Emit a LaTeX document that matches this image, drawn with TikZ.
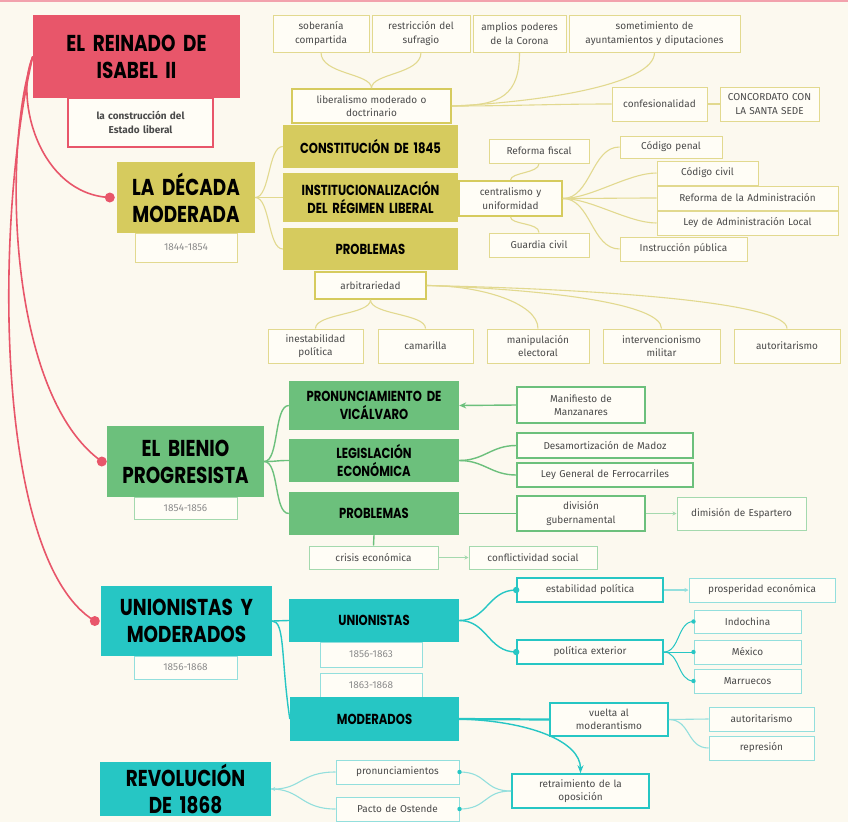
\documentclass[tikz,border=0pt]{standalone}
\usepackage{fontspec}
\setmainfont{Fira Sans}
\newfontfamily\hf[FakeStretch=0.80]{Poppins}
\usetikzlibrary{arrows.meta}
\definecolor{bg}{HTML}{FCF9EF}
\definecolor{rd}{HTML}{E8566A}
\definecolor{ol}{HTML}{D6CB5E}
\definecolor{oll}{HTML}{E2D98F}
\definecolor{gr}{HTML}{6CC07C}
\definecolor{grl}{HTML}{A4D9AE}
\definecolor{tl}{HTML}{26C6C4}
\definecolor{tll}{HTML}{93DFDD}
\definecolor{tx}{HTML}{4A4A4A}
\definecolor{txl}{HTML}{8C8C8C}
\definecolor{wb}{HTML}{FFFDF6}
\tikzset{
  base/.style={inner sep=1pt, align=center, font=\fontsize{10}{13.5}\selectfont, text=tx},
  bigh/.style={base, font=\hf\bfseries\fontsize{23}{27}\selectfont, text=black},
  midh/.style={base, font=\hf\bfseries\fontsize{14.5}{18}\selectfont, text=black},
  redH/.style={bigh, fill=rd},
  redS/.style={base, draw=rd, line width=1.3, fill=wb, font=\bfseries\fontsize{10}{14}\selectfont},
  olH/.style={bigh, fill=ol}, olM/.style={midh, fill=ol},
  olS/.style={base, draw=oll, line width=1, fill=wb},
  olT/.style={base, draw=ol, line width=1.7, fill=wb},
  grH/.style={bigh, fill=gr}, grM/.style={midh, fill=gr},
  grS/.style={base, draw=gr, line width=1.6, fill=wb},
  grL/.style={base, draw=grl, line width=1, fill=wb},
  tlH/.style={bigh, fill=tl}, tlM/.style={midh, fill=tl},
  tlS/.style={base, draw=tl, line width=1.6, fill=wb},
  tlL/.style={base, draw=tll, line width=1, fill=wb},
  rdc/.style={draw=rd, line width=1.6},
  olc/.style={draw=oll, line width=1.1},
  grc/.style={draw=gr, line width=1.4},
  grcl/.style={draw=grl, line width=1},
  tlc/.style={draw=tl, line width=1.4},
  tlcl/.style={draw=tll, line width=1.1},
  smarrow/.style={-{Stealth[length=4pt,width=4pt]}}
}
\newcommand\bx[7]{\node[#2, minimum width={#5-#3}, minimum height={#6-#4}, text width={#5-#3-4}] (#1) at ({(#3+#5)/2},{(#4+#6)/2}) {#7};}
\begin{document}
\begin{tikzpicture}[x=1pt,y=-1pt]
\useasboundingbox (0,0) rectangle (848,822);
\fill[bg] (0,0) rectangle (848,822);
\fill[rd!55] (0,0) rectangle (848,2);

% ---------- red
\bx{title}{redH}{33}{15}{240}{98}{EL REINADO DE\\ISABEL II}
\bx{tsub}{redS}{68}{98}{213}{147}{la construcción del\\Estado liberal}

% ---------- olive
\bx{sob}{olS}{273}{15}{369}{52}{soberanía\\compartida}
\bx{res}{olS}{372}{15}{470}{52}{restricción del\\sufragio}
\bx{amp}{olS}{473}{15}{566}{52}{amplios poderes\\de la Corona}
\bx{som}{olS}{569}{15}{740}{52}{sometimiento de\\ayuntamientos y diputaciones}
\bx{lib}{olT}{292}{89}{451}{123}{liberalismo moderado o\\doctrinario}
\bx{conf}{olS}{612}{87}{707}{121}{confesionalidad}
\bx{conc}{olS}{720}{87}{819}{121}{CONCORDATO CON\\LA SANTA SEDE}
\bx{dec}{olH}{117}{162}{255}{233}{LA DÉCADA\\MODERADA}
\bx{dsub}{olS}{135}{233}{237}{262}{\color{txl}1844-1854}
\bx{const}{olM}{283}{125}{458}{168}{CONSTITUCIÓN DE 1845}
\bx{inst}{olM}{283}{173}{458}{222}{INSTITUCIONALIZACIÓN\\DEL RÉGIMEN LIBERAL}
\bx{prob}{olM}{283}{228}{458}{270}{PROBLEMAS}
\bx{cen}{olT}{459}{181}{562}{216}{centralismo y\\uniformidad}
\bx{rf}{olS}{489}{139}{589}{163}{Reforma fiscal}
\bx{gc}{olS}{489}{233}{589}{257}{Guardia civil}
\bx{cp}{olS}{620}{136}{722}{158}{Código penal}
\bx{cc}{olS}{657}{161}{758}{185}{Código civil}
\bx{ra}{olS}{657}{186}{838}{210}{Reforma de la Administración}
\bx{la}{olS}{657}{211}{838}{235}{Ley de Administración Local}
\bx{ip}{olS}{620}{237}{747}{261}{Instrucción pública}
\bx{arb}{olT}{315}{272}{426}{299}{arbitrariedad}
\bx{ine}{olS}{268}{329}{363}{363}{inestabilidad\\política}
\bx{cam}{olS}{378}{329}{473}{363}{camarilla}
\bx{man}{olS}{487}{329}{589}{363}{manipulación\\electoral}
\bx{int}{olS}{603}{329}{720}{363}{intervencionismo\\militar}
\bx{aut}{olS}{734}{329}{840}{363}{autoritarismo}

% ---------- green
\bx{bien}{grH}{107}{426}{264}{497}{EL BIENIO\\PROGRESISTA}
\bx{bsub}{grL}{134}{497}{237}{519}{\color{txl}1854-1856}
\bx{pron}{grM}{289}{381}{459}{430}{PRONUNCIAMIENTO DE\\VICÁLVARO}
\bx{leg}{grM}{289}{439}{459}{482}{LEGISLACIÓN\\ECONÓMICA}
\bx{probb}{grM}{289}{492}{459}{535}{PROBLEMAS}
\bx{mzn}{grS}{517}{387}{645}{423}{Manifiesto de\\Manzanares}
\bx{des}{grS}{517}{433}{693}{458}{Desamortización de Madoz}
\bx{lgf}{grS}{517}{463}{693}{487}{Ley General de Ferrocarriles}
\bx{div}{grS}{517}{496}{645}{531}{división\\gubernamental}
\bx{dim}{grL}{677}{497}{806}{530}{dimisión de Espartero}
\bx{cri}{grL}{309}{546}{438}{569}{crisis económica}
\bx{cfs}{grL}{469}{546}{597}{569}{conflictividad social}

% ---------- teal
\bx{uym}{tlH}{101}{586}{272}{656}{UNIONISTAS Y\\MODERADOS}
\bx{usub}{tlL}{134}{656}{237}{679}{\color{txl}1856-1868}
\bx{un}{tlM}{289}{599}{459}{642}{UNIONISTAS}
\bx{uone}{tlL}{320}{642}{422}{667}{\color{txl}1856-1863}
\bx{utwo}{tlL}{320}{673}{422}{697}{\color{txl}1863-1868}
\bx{mod}{tlM}{290}{697}{459}{741}{MODERADOS}
\bx{est}{tlS}{517}{578}{663}{602}{estabilidad política}
\bx{pros}{tlL}{689}{578}{835}{602}{prosperidad económica}
\bx{pol}{tlS}{517}{640}{663}{664}{política exterior}
\bx{ind}{tlL}{694}{610}{801}{633}{Indochina}
\bx{mex}{tlL}{694}{640}{801}{664}{México}
\bx{mar}{tlL}{694}{669}{801}{693}{Marruecos}
\bx{vue}{tlS}{550}{703}{668}{736}{vuelta al\\moderantismo}
\bx{autb}{tlL}{709}{707}{814}{731}{autoritarismo}
\bx{rep}{tlL}{709}{736}{814}{760}{represión}
\bx{rev}{tlH}{100}{762}{271}{816}{REVOLUCIÓN\\DE 1868}
\bx{pnc}{tlL}{336}{760}{459}{784}{pronunciamientos}
\bx{pac}{tlL}{336}{797}{459}{821}{Pacto de Ostende}
\bx{ret}{tlS}{512}{774}{649}{808}{retraimiento de la\\oposición}

% ---------- red connectors
\draw[rdc] (title.west) .. controls (14,100) and (40,194) .. ([xshift=-7pt]dec.west) coordinate (ra1);
\draw[rdc] (title.west) .. controls (2,150) and (8,395) .. ([xshift=-5pt]bien.west) coordinate (ra2);
\draw[rdc] (title.west) .. controls (-6,220) and (-6,560) .. ([xshift=-6pt]uym.west) coordinate (ra3);
\foreach \p in {ra1,ra2,ra3} \fill[rd] (\p) circle (5);

% ---------- olive connectors
\draw[olc] (sob.south) .. controls +(0,22) and +(0,-15) .. (lib.north);
\draw[olc] (res.south) .. controls +(0,22) and +(0,-15) .. (lib.north);
\draw[olc] (amp.south) .. controls +(0,42) and +(50,0) .. (lib.east);
\draw[olc] (som.south) .. controls +(0,32) and +(90,-4) .. (lib.east);
\draw[olc] (conf.west) .. controls +(-60,0) and +(60,0) .. (lib.east);
\draw[olc] (conf.east) -- (conc.west);
\foreach \t in {const,inst,prob} \draw[olc] (dec.east) .. controls +(15,0) and +(-15,0) .. (\t.west);
\draw[olc] (rf.south) .. controls +(0,10) and +(0,-8) .. (cen.north);
\draw[olc] (gc.north) .. controls +(0,-10) and +(0,8) .. (cen.south);
\foreach \t in {cp,cc,ra,la,ip} \draw[olc] (cen.east) .. controls +(28,0) and +(-28,0) .. (\t.west);
\draw[olc] (arb.south) .. controls +(0,15) and +(0,-15) .. (ine.north);
\draw[olc] (arb.south) .. controls +(0,15) and +(0,-15) .. (cam.north);
\draw[olc] (arb.east) .. controls +(55,0) and +(0,-25) .. (man.north);
\draw[olc] (arb.east) .. controls +(120,4) and +(0,-25) .. (int.north);
\draw[olc] (arb.east) .. controls +(190,4) and +(0,-25) .. (aut.north);

% ---------- green connectors
\foreach \t in {pron,leg,probb} \draw[grc] (bien.east) .. controls +(15,0) and +(-15,0) .. (\t.west);
\draw[grc,-{Stealth[length=7pt,width=6pt]}] (mzn.west) -- (pron.east);
\draw[grc] (leg.east) .. controls +(25,0) and +(-25,0) .. (des.west);
\draw[grc] (leg.east) .. controls +(25,0) and +(-25,0) .. (lgf.west);
\draw[grc] (probb.east) -- (div.west);
\draw[grcl,smarrow] (div.east) -- (dim.west);
\draw[grc] (probb.south) -- (cri.north);
\draw[grcl,smarrow] (cri.east) -- (cfs.west);

% ---------- teal connectors
\draw[tlc] (uym.east) -- (un.west);
\draw[tlc] (uym.east) .. controls +(13,0) and +(-9,-60) .. (mod.west);
\draw[tlc] (un.east) .. controls +(28,0) and +(-28,0) .. (est.west);
\draw[tlc] (un.east) .. controls +(28,0) and +(-28,0) .. (pol.west);
\fill[tl] (est.west) circle (3.2);
\fill[tl] (pol.west) circle (3.2);
\draw[tlcl,smarrow] (est.east) -- (pros.west);
\foreach \t in {ind,mex,mar} {\draw[tlc,line width=1] (pol.east) .. controls +(16,0) and +(-16,0) .. (\t.west); \fill[tl] (\t.west) circle (2.2);}
\draw[tlc,line width=2.2] (mod.east) -- (vue.west);
\draw[tlc,-{Stealth[length=8pt,width=6pt]}] (mod.east) .. controls +(70,2) and +(0,-32) .. (ret.north);
\draw[tlcl] (vue.east) -- (autb.west);
\draw[tlcl] (vue.east) .. controls +(22,0) and +(-22,0) .. (rep.west);
\draw[tlcl] (ret.west) .. controls +(-28,0) and +(28,0) .. (pnc.east);
\draw[tlcl] (ret.west) .. controls +(-28,0) and +(28,0) .. (pac.east);
\fill[tl] (pnc.east) circle (2.2);
\fill[tl] (pac.east) circle (2.2);
\draw[tlcl,smarrow] (pnc.west) .. controls +(-35,0) and +(30,0) .. (rev.east);
\draw[tlcl] (pac.west) .. controls +(-35,0) and +(30,0) .. (rev.east);
\end{tikzpicture}
\end{document}
